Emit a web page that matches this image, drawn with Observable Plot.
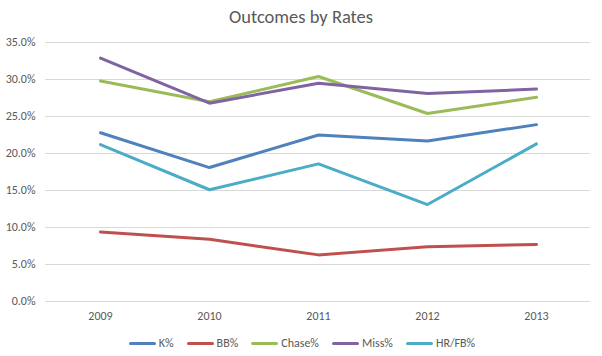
<!DOCTYPE html>
<html>
<head>
<meta charset="utf-8">
<script src="https://cdn.jsdelivr.net/npm/d3@7"></script>
<script src="https://cdn.jsdelivr.net/npm/@observablehq/plot@0.6"></script>
<style>
  html, body { margin: 0; padding: 0; background: #fff; }
  body { width: 602px; height: 356px; overflow: hidden; font-family: Calibri, Carlito, Lato, "Liberation Sans", sans-serif; }
  #title { height: 30px; line-height: 34px; text-align: center; font-size: 18.5px; color: #595959; }
  #legend { display: flex; justify-content: center; gap: 13px; height: 26px; align-items: center; font-size: 12px; color: #595959; padding-left: 2px; margin-top: 0px; }
  .item { display: flex; align-items: center; gap: 3px; }
  .sw { width: 27px; height: 3px; border-radius: 1.5px; }
</style>
</head>
<body>
<div id="title">Outcomes by Rates</div>
<div id="chart"></div>
<div id="legend"></div>
<script>
const years = ["2009", "2010", "2011", "2012", "2013"];
const seriesNames = ["K%", "BB%", "Chase%", "Miss%", "HR/FB%"];
const seriesColors = ["#4F81BD", "#C0504D", "#9BBB59", "#8064A2", "#4BACC6"];
const kPct = [22.8, 18.1, 22.5, 21.7, 23.9];
const bbPct = [9.4, 8.4, 6.3, 7.4, 7.7];
const chasePct = [29.8, 27.0, 30.4, 25.4, 27.6];
const missPct = [32.9, 26.8, 29.5, 28.1, 28.7];
const hrfbPct = [21.2, 15.1, 18.6, 13.1, 21.3];
const yTicks = [0, 5, 10, 15, 20, 25, 30, 35];

const valuesBySeries = [kPct, bbPct, chasePct, missPct, hrfbPct];
const data = [];
seriesNames.forEach((s, i) => years.forEach((y, j) => data.push({series: s, year: y, value: valuesBySeries[i][j]})));

const chart = Plot.plot({
  width: 602,
  height: 300,
  marginTop: 12,
  marginBottom: 29,
  marginLeft: 45,
  marginRight: 12,
  style: {fontFamily: "Calibri, Carlito, Lato, 'Liberation Sans', sans-serif", fontSize: "12px", color: "#595959", background: "#fff"},
  x: {type: "point", domain: years, padding: 0.5, label: null},
  y: {domain: [0, 35], label: null},
  color: {domain: seriesNames, range: seriesColors},
  marks: [
    Plot.gridY(yTicks, {stroke: "#d9d9d9", strokeOpacity: 1, strokeWidth: 1}),
    Plot.axisY(yTicks, {tickSize: 0, tickPadding: 10, tickFormat: d => d.toFixed(1) + "%", fill: "#595959", fontSize: 12}),
    Plot.axisX(years, {tickSize: 0, tickPadding: 10, fill: "#595959", fontSize: 12}),
    Plot.line(data, {x: "year", y: "value", z: "series", stroke: "series", strokeWidth: 3, strokeLinejoin: "round", strokeLinecap: "round"})
  ]
});
document.getElementById("chart").appendChild(chart);

const legend = document.getElementById("legend");
seriesNames.forEach((s, i) => {
  const item = document.createElement("div");
  item.className = "item";
  const sw = document.createElement("div");
  sw.className = "sw";
  sw.style.background = seriesColors[i];
  const t = document.createElement("span");
  t.textContent = s;
  item.appendChild(sw);
  item.appendChild(t);
  legend.appendChild(item);
});
</script>
</body>
</html>
